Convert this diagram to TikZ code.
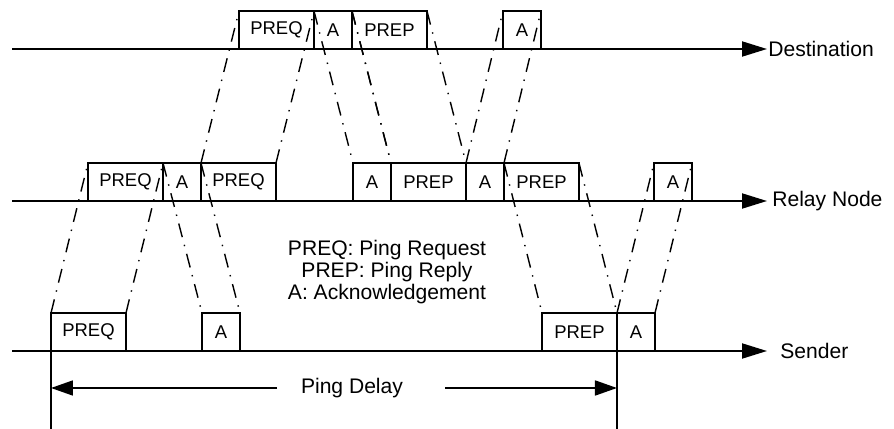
\documentclass[tikz,border=0pt]{standalone}
\usepackage{fontspec}
\setmainfont{Liberation Sans}
\usetikzlibrary{arrows.meta}

\tikzset{
  pkt/.style={draw, line width=0.9pt, minimum height=0.76cm, inner sep=0pt, outer sep=0pt, anchor=south west, font=\fontsize{10.5}{12}\selectfont},
  bigpkt/.style={pkt, minimum width=1.5cm},
  ackpkt/.style={pkt, minimum width=0.76cm},
  hop/.style={line width=0.8pt, dash pattern=on 8pt off 4.5pt on 0.8pt off 4.5pt},
  axis/.style={line width=1.1pt, -{Triangle[length=0.5cm, width=0.3cm]}},
  dim/.style={line width=1pt, -{Triangle[length=0.44cm, width=0.3cm]}},
  lbl/.style={inner sep=0pt, font=\fontsize{12}{12.5}\selectfont}
}

\begin{document}
\begin{tikzpicture}[x=0.02cm, y=-0.02cm]

% command drawing dimensions
\newcommand{\dstline}{49}
\newcommand{\rlyline}{201}
\newcommand{\sndline}{351}
\newcommand{\xstart}{12}
\newcommand{\xtip}{767}

% ad hoc bounding box
\useasboundingbox (0, 0) rectangle (894, 429);

% time lines
\coordinate (dst0) at (\xstart, \dstline);
\coordinate (dst1) at (\xtip, \dstline);
\coordinate (rly0) at (\xstart, \rlyline);
\coordinate (rly1) at (\xtip, \rlyline);
\coordinate (snd0) at (\xstart, \sndline);
\coordinate (snd1) at (\xtip, \sndline);
\draw[axis] (dst0) -- (dst1);
\draw[axis] (rly0) -- (rly1);
\draw[axis] (snd0) -- (snd1);
\node[lbl, anchor=west] (dst) at (768, \dstline) {Destination};
\node[lbl, anchor=west] (rly) at (772, \rlyline) {Relay Node};
\node[lbl, anchor=west] (snd) at (780, \sndline) {Sender};

% frames at the destination
\node[bigpkt] (d1) at (239, \dstline) {PREQ};
\node[ackpkt] (d2) at (314, \dstline) {A};
\node[bigpkt] (d3) at (352, \dstline) {PREP};
\node[ackpkt] (d4) at (503, \dstline) {A};

% frames at the relay node
\node[bigpkt] (r1) at (88, \rlyline) {PREQ};
\node[ackpkt] (r2) at (163, \rlyline) {A};
\node[bigpkt] (r3) at (201, \rlyline) {PREQ};
\node[ackpkt] (r4) at (353, \rlyline) {A};
\node[bigpkt] (r5) at (391, \rlyline) {PREP};
\node[ackpkt] (r6) at (466, \rlyline) {A};
\node[bigpkt] (r7) at (504, \rlyline) {PREP};
\node[ackpkt] (r8) at (654, \rlyline) {A};

% frames at the sender
\node[bigpkt] (s1) at (51, \sndline) {PREQ};
\node[ackpkt] (s2) at (202, \sndline) {A};
\node[bigpkt] (s3) at (542, \sndline) {PREP};
\node[ackpkt] (s4) at (617, \sndline) {A};

% propagation between the lines
\draw[hop] (s1.north west) -- (r1.north west);
\draw[hop] (s1.north east) -- (r1.north east);
\draw[hop] (r2.north west) -- (s2.north west);
\draw[hop] (r2.north east) -- (s2.north east);
\draw[hop] (r3.north west) -- (d1.north west);
\draw[hop] (r3.north east) -- (d1.north east);
\draw[hop] (d2.north west) -- (r4.north west);
\draw[hop] (d2.north east) -- (r4.north east);
\draw[hop] (d3.north west) -- (r5.north west);
\draw[hop] (d3.north east) -- (r5.north east);
\draw[hop] (r6.north west) -- (d4.north west);
\draw[hop] (r6.north east) -- (d4.north east);
\draw[hop] (r7.north west) -- (s3.north west);
\draw[hop] (r7.north east) -- (s3.north east);
\draw[hop] (s4.north west) -- (r8.north west);
\draw[hop] (s4.north east) -- (r8.north east);

% legend
\node[lbl, align=center] (key) at (387, 272) {PREQ: Ping Request\\PREP: Ping Reply\\A: Acknowledgement};

% ping delay
\coordinate (pdl) at (277, 388);
\coordinate (pdr) at (445, 388);
\node[lbl] (pd) at (352, 388) {Ping Delay};
\draw[line width=1pt] (s1.north west) -- (s1.north west |- 0, 429);
\draw[line width=1pt] (s3.north east) -- (s3.north east |- 0, 429);
\draw[dim] (pdl) -- (pdl -| s1.west);
\draw[dim] (pdr) -- (pdr -| s3.east);

\end{tikzpicture}
\end{document}
